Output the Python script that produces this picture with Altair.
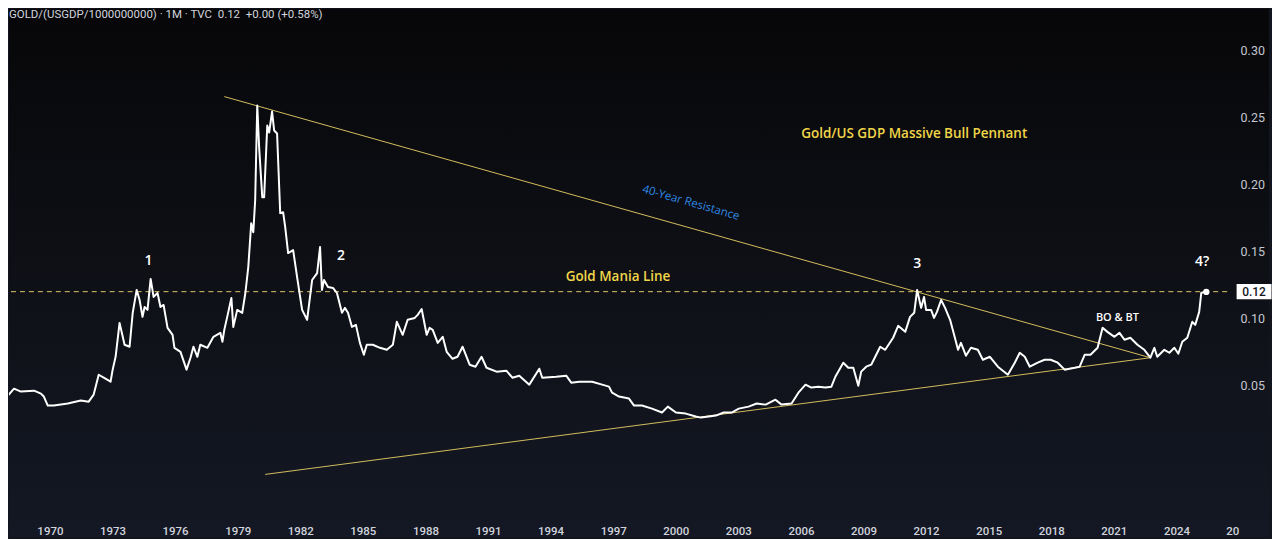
import altair as alt
import pandas as pd

# ---- price series: Gold / (US GDP / 1e9), monthly ----
years = [
    1967.66, 1967.99, 1968.28, 1968.61, 1969.24, 1969.57, 1969.71, 1969.90, 1970.19, 1970.86,
    1971.48, 1971.86, 1972.10, 1972.34, 1972.58, 1972.91, 1973.01, 1973.15, 1973.34, 1973.58,
    1973.82, 1973.97, 1974.16, 1974.30, 1974.44, 1974.54, 1974.68, 1974.83, 1974.97, 1975.16,
    1975.30, 1975.45, 1975.64, 1975.88, 1975.97, 1976.26, 1976.55, 1976.74, 1976.88, 1977.07,
    1977.21, 1977.55, 1977.84, 1978.17, 1978.27, 1978.36, 1978.50, 1978.70, 1978.79, 1978.98,
    1979.22, 1979.37, 1979.51, 1979.65, 1979.75, 1979.84, 1979.94, 1980.03, 1980.18, 1980.27,
    1980.42, 1980.51, 1980.65, 1980.75, 1980.89, 1981.04, 1981.18, 1981.28, 1981.42, 1981.66,
    1981.85, 1982.09, 1982.33, 1982.57, 1982.81, 1982.95, 1983.04, 1983.14, 1983.33, 1983.57,
    1983.76, 1984.00, 1984.14, 1984.29, 1984.48, 1984.67, 1984.86, 1985.05, 1985.19, 1985.48,
    1985.82, 1986.15, 1986.44, 1986.63, 1986.91, 1987.15, 1987.49, 1987.63, 1987.82, 1988.06,
    1988.20, 1988.35, 1988.59, 1988.83, 1989.02, 1989.30, 1989.54, 1989.78, 1990.12, 1990.40,
    1990.69, 1990.93, 1991.41, 1991.88, 1992.17, 1992.50, 1992.98, 1993.46, 1993.60, 1994.27,
    1994.75, 1994.99, 1995.37, 1995.99, 1996.47, 1996.80, 1996.95, 1997.28, 1997.76, 1998.00,
    1998.38, 1998.86, 1999.34, 1999.62, 2000.01, 2000.48, 2000.96, 2001.20, 2001.58, 2001.92,
    2002.30, 2002.68, 2003.02, 2003.49, 2003.88, 2004.31, 2004.78, 2005.07, 2005.55, 2005.88,
    2006.22, 2006.50, 2006.84, 2007.17, 2007.46, 2007.65, 2008.03, 2008.27, 2008.51, 2008.75,
    2008.89, 2009.13, 2009.37, 2009.80, 2010.04, 2010.42, 2010.66, 2011.00, 2011.23, 2011.43,
    2011.57, 2011.76, 2011.90, 2012.00, 2012.24, 2012.38, 2012.52, 2012.72, 2012.91, 2013.15,
    2013.38, 2013.53, 2013.67, 2013.91, 2014.15, 2014.48, 2014.72, 2015.06, 2015.44, 2015.92,
    2016.25, 2016.49, 2016.73, 2016.97, 2017.35, 2017.68, 2017.97, 2018.31, 2018.64, 2019.12,
    2019.36, 2019.60, 2019.88, 2020.22, 2020.46, 2020.69, 2021.03, 2021.27, 2021.51, 2021.79,
    2022.13, 2022.46, 2022.75, 2022.94, 2023.08, 2023.42, 2023.66, 2023.90, 2024.09, 2024.28,
    2024.52, 2024.76, 2024.90, 2025.09, 2025.19, 2025.33, 2025.43,
]
ratio = [
    0.0432, 0.0424, 0.0476, 0.0454, 0.0461, 0.0439, 0.0417, 0.0350, 0.0350, 0.0365,
    0.0387, 0.0379, 0.0432, 0.0580, 0.0558, 0.0528, 0.0618, 0.0714, 0.0967, 0.0804,
    0.0789, 0.1042, 0.1213, 0.1138, 0.1012, 0.1086, 0.1064, 0.1295, 0.1161, 0.1190,
    0.1086, 0.1101, 0.0930, 0.0878, 0.0781, 0.0751, 0.0618, 0.0707, 0.0789, 0.0714,
    0.0804, 0.0781, 0.0863, 0.0893, 0.0826, 0.0915, 0.1012, 0.1153, 0.0937, 0.1064,
    0.1042, 0.1190, 0.1384, 0.1711, 0.1644, 0.1882, 0.2589, 0.2277, 0.1905, 0.1905,
    0.2440, 0.2388, 0.2544, 0.2403, 0.2381, 0.1786, 0.1793, 0.1681, 0.1488, 0.1510,
    0.1309, 0.1064, 0.0990, 0.1287, 0.1339, 0.1533, 0.1213, 0.1287, 0.1235, 0.1228,
    0.1190, 0.1042, 0.1079, 0.1042, 0.0937, 0.0952, 0.0818, 0.0729, 0.0804, 0.0804,
    0.0781, 0.0766, 0.0804, 0.0975, 0.0878, 0.0990, 0.1004, 0.1027, 0.1071, 0.0878,
    0.0930, 0.0915, 0.0818, 0.0863, 0.0751, 0.0699, 0.0714, 0.0789, 0.0655, 0.0640,
    0.0714, 0.0632, 0.0603, 0.0610, 0.0558, 0.0573, 0.0506, 0.0625, 0.0558, 0.0565,
    0.0573, 0.0521, 0.0528, 0.0528, 0.0506, 0.0491, 0.0446, 0.0417, 0.0402, 0.0350,
    0.0350, 0.0327, 0.0298, 0.0342, 0.0298, 0.0290, 0.0268, 0.0260, 0.0268, 0.0275,
    0.0298, 0.0298, 0.0327, 0.0342, 0.0365, 0.0357, 0.0394, 0.0357, 0.0365, 0.0446,
    0.0506, 0.0484, 0.0491, 0.0484, 0.0491, 0.0565, 0.0670, 0.0632, 0.0632, 0.0498,
    0.0603, 0.0640, 0.0655, 0.0789, 0.0766, 0.0856, 0.0945, 0.0900, 0.1012, 0.1042,
    0.1213, 0.1079, 0.1161, 0.1064, 0.1064, 0.1004, 0.1049, 0.1138, 0.1079, 0.0990,
    0.0856, 0.0766, 0.0818, 0.0722, 0.0781, 0.0766, 0.0692, 0.0714, 0.0640, 0.0580,
    0.0670, 0.0744, 0.0714, 0.0640, 0.0670, 0.0692, 0.0692, 0.0670, 0.0618, 0.0632,
    0.0640, 0.0729, 0.0729, 0.0781, 0.0930, 0.0900, 0.0863, 0.0893, 0.0841, 0.0856,
    0.0804, 0.0766, 0.0707, 0.0781, 0.0714, 0.0766, 0.0744, 0.0781, 0.0737, 0.0826,
    0.0856, 0.0975, 0.0952, 0.1049, 0.1190, 0.1198, 0.1198,
]

# ---- drawn trendlines (pennant) ----
trend_names = ["resistance", "resistance", "support", "support"]
trend_years = [1978.36, 2022.75, 1980.32, 2022.75]
trend_vals = [0.2656, 0.0707, -0.0164, 0.0707]

mania_level = 0.12

# ---- annotations ----
num_text = ["1", "2", "3", "4?"]
num_years = [1974.73, 1983.95, 2011.57, 2025.23]
num_vals = [0.1429, 0.1466, 0.1406, 0.1421]

yellow_text = ["Gold Mania Line", "Gold/US GDP Massive Bull Pennant"]
yellow_years = [1997.23, 2011.43]
yellow_vals = [0.1310, 0.2373]

x_ticks = [1970, 1973, 1976, 1979, 1982, 1985, 1988, 1991, 1994, 1997,
           2000, 2003, 2006, 2009, 2012, 2015, 2018, 2021, 2024]
y_ticks = [0.05, 0.10, 0.15, 0.20, 0.25, 0.30]

NB = "\u00a0"
title_text = f"GOLD/(USGDP/1000000000) · 1M · TVC{NB}{NB}0.12{NB}{NB}+0.00 (+0.58%)"

W, H = 1222, 502

price = pd.DataFrame({"t": years, "v": ratio})
trend = pd.DataFrame({"name": trend_names, "t": trend_years, "v": trend_vals})
nums = pd.DataFrame({"text": num_text, "t": num_years, "v": num_vals})
yel = pd.DataFrame({"text": yellow_text, "t": yellow_years, "v": yellow_vals})
last = price.tail(1)

xscale = alt.Scale(domain=[1968.04, 2026.43], nice=False, zero=False)
yscale = alt.Scale(domain=[-0.0424, 0.3311], nice=False, zero=False)

def X(axis=False):
    if axis:
        return alt.X("t:Q", scale=xscale, title=None,
                     axis=alt.Axis(values=x_ticks, format="d", grid=False, domain=False,
                                   ticks=False, labelPadding=16, labelColor="#d1d4dc",
                                   labelFont="Roboto", labelFontSize=11.5, labelFontWeight=500,
                                   zindex=2))
    return alt.X("t:Q", scale=xscale, title=None)

def Y(axis=False):
    if axis:
        return alt.Y("v:Q", scale=yscale, title=None,
                     axis=alt.Axis(orient="right", values=y_ticks, format=".2f", grid=False,
                                   domain=False, ticks=False, labelPadding=13,
                                   labelColor="#c3c6ce", labelFont="Roboto", labelFontSize=12.5,
                                   zindex=2))
    return alt.Y("v:Q", scale=yscale, title=None)

bg = alt.Chart(pd.DataFrame({"a": [0]})).mark_rect(
    color=alt.Gradient(gradient="linear", x1=0, y1=0, x2=0, y2=1,
                       stops=[alt.GradientStop(color="#070709", offset=0),
                              alt.GradientStop(color="#0e1016", offset=0.5),
                              alt.GradientStop(color="#141824", offset=1)])
).encode(x=alt.value(0), x2=alt.value(1264), y=alt.value(0), y2=alt.value(530))

line = alt.Chart(price).mark_line(color="#ffffff", strokeWidth=2, clip=True,
                                  strokeJoin="round").encode(x=X(True), y=Y(True))

mania = alt.Chart(pd.DataFrame({"v": [mania_level]})).mark_rule(
    color="#dcc46a", strokeDash=[5, 4], strokeWidth=1
).encode(y=Y())

trendlines = alt.Chart(trend).mark_line(color="#d4bd5c", strokeWidth=1, clip=True).encode(
    x=X(), y=Y(), detail="name:N")

numbers = alt.Chart(nums).mark_text(color="#ffffff", font="Open Sans", fontSize=14,
                                    fontWeight=600).encode(x=X(), y=Y(), text="text:N")

yellows = alt.Chart(yel).mark_text(color="#f2d649", font="Open Sans", fontSize=13.5,
                                   fontWeight=600).encode(x=X(), y=Y(), text="text:N")

resist_lbl = alt.Chart(pd.DataFrame({"t": [2000.72], "v": [0.1860],
                                     "text": ["40-Year Resistance"]})).mark_text(
    color="#2f8ae6", font="Open Sans", fontSize=11.5, angle=16
).encode(x=X(), y=Y(), text="text:N")

bo_lbl = alt.Chart(pd.DataFrame({"t": [2021.17], "v": [0.1004], "text": ["BO & BT"]})).mark_text(
    color="#ffffff", font="Open Sans", fontSize=11, fontWeight=600
).encode(x=X(), y=Y(), text="text:N")

dot = alt.Chart(last).mark_point(filled=True, color="#ffffff", size=40, opacity=1).encode(
    x=X(), y=Y())

box = alt.Chart(pd.DataFrame({"v": [mania_level]})).mark_point(
    shape="M-1,-0.44L1,-0.44L1,0.44L-1,0.44Z", filled=True, color="#ffffff", opacity=1,
    size=1225
).encode(x=alt.value(W + 27), y=Y())

box_txt = alt.Chart(pd.DataFrame({"v": [mania_level], "text": ["0.12"]})).mark_text(
    color="#131722", font="Roboto", fontSize=12, fontWeight=500
).encode(x=alt.value(W + 27), y=Y(), text="text:N")

title = alt.Chart(pd.DataFrame({"text": [title_text]})).mark_text(
    color="#d1d4dc", font="Roboto", fontSize=11.5, align="left", baseline="middle"
).encode(x=alt.value(0), y=alt.value(6), text="text:N")

edge_lbl = alt.Chart(pd.DataFrame({"text": ["20"]})).mark_text(
    color="#d1d4dc", font="Roboto", fontSize=11.5, fontWeight=500, align="left",
    baseline="middle"
).encode(x=alt.value(W - 1), y=alt.value(H + 23), text="text:N")

chart = alt.layer(
    bg, mania, trendlines, line, dot, numbers, yellows, resist_lbl, bo_lbl,
    box, box_txt, title, edge_lbl
).properties(
    width=W, height=H, padding={"left": 0, "top": 0, "right": 0, "bottom": 0},
    background="#12151d"
).configure_view(stroke=None)

chart.save("out.html", embed_options={"renderer": "svg", "actions": False})
